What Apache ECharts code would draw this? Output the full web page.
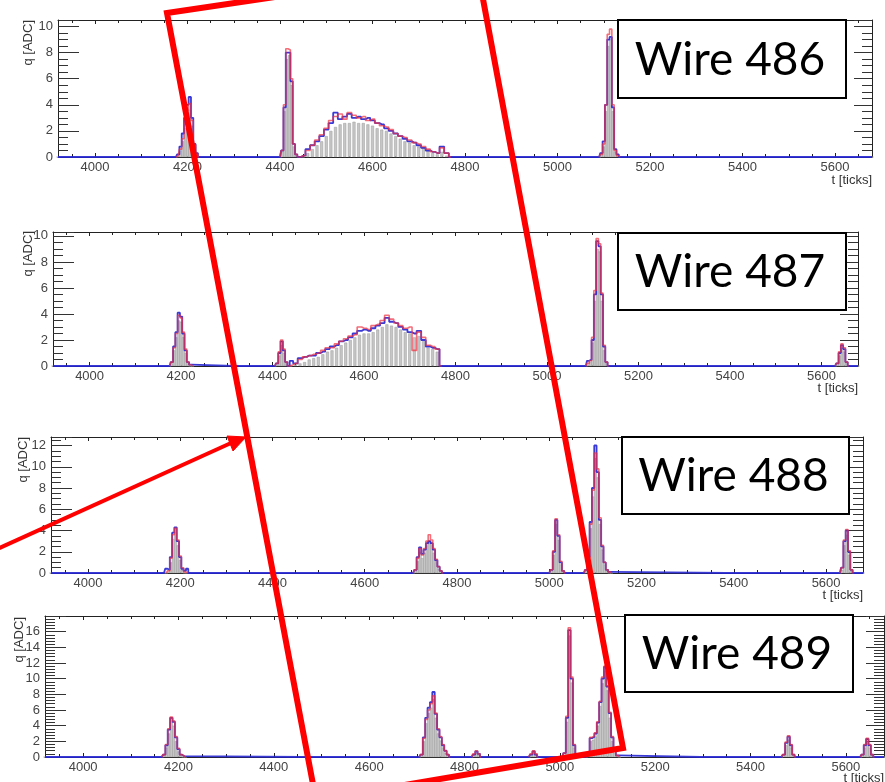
<!DOCTYPE html>
<html><head><meta charset="utf-8">
<script src="https://cdn.jsdelivr.net/npm/echarts@6/dist/echarts.min.js"></script>
<style>html,body{margin:0;padding:0;background:#fff}#c{width:885px;height:782px}</style>
</head><body><div id="c"></div><script>
// ---- data (t in ticks, q in ADC) ----
const t486 = [3920,
 4175,4180,4185,4190,4195,4200,4205,4210,4215,4220,4225,
 4400,4405,4410,4415,4420,4425,4430,4435,4440,
 4450,4460,4470,4480,4490,4500,4510,4520,4530,4540,4550,4560,4570,4580,4590,4600,4610,4620,4630,4640,4650,4660,4670,4680,4690,4700,4710,4720,4730,4740,4750,4760,4770,
 5090,5095,5100,5105,5110,5115,5120,5125,5130,5135,
 5680];
const data486 = [0,
 0,0.1,0.5,1.2,2.2,3.0,3.6,2.4,0.8,0.2,0,
 0,0.4,3.5,7.5,7.8,5.5,0.8,0.1,0,
 0,0.3,0.6,0.9,1.2,1.6,2.0,2.3,2.5,2.6,2.6,2.7,2.6,2.6,2.5,2.4,2.2,2.1,2.0,1.8,1.6,1.4,1.2,1.1,0.9,0.8,0.7,0.5,0.3,0.2,0.4,0.1,0,
 0,0.2,0.8,3.5,8.5,9.0,3.5,0.4,0.1,0,
 0];
const red486 = [0,
 0,0.1,0.6,1.4,2.6,3.6,4.1,2.8,0.9,0.2,0,
 0,0.5,4.0,8.3,8.2,6.0,1.0,0.2,0,
 0.1,0.5,0.9,1.3,1.7,2.2,2.8,3.1,3.3,2.9,3.4,3.2,3.0,3.1,2.8,2.9,2.6,2.4,2.3,2.1,1.8,1.6,1.5,1.3,1.1,1.0,0.8,0.6,0.4,0.3,0.7,0.3,0,
 0,0.2,1.0,4.0,9.4,9.8,4.0,0.5,0.1,0,
 0];
const blue486 = [0,
 0,0.2,0.8,1.8,3.0,4.0,4.6,3.0,1.0,0.3,0,
 0,0.5,3.8,8.0,8.0,5.8,1.0,0.2,0,
 0.1,0.6,0.9,1.2,1.6,2.1,2.6,3.4,2.9,3.1,3.3,3.0,3.1,2.9,3.0,2.8,2.6,2.5,2.2,2.0,1.8,1.6,1.4,1.2,1.1,0.9,0.7,0.5,0.4,0.3,0.8,0.3,0,
 0,0.3,1.2,4.0,9.0,9.2,3.8,0.6,0.2,0,
 0];

const t487 = [3920,
 4175,4180,4185,4190,4195,4200,4205,4210,4215,4220,4225,
 4405,4410,4415,4420,4425,4430,4435,
 4440,4450,4460,4470,4480,4490,4500,4510,4520,4530,4540,4550,4560,4570,4580,4590,4600,4610,4620,4630,4640,4650,4660,4670,4680,4690,4700,4710,4720,4730,4740,4750,4760,4770,
 5085,5090,5095,5100,5105,5110,5115,5120,5125,5130,5135,
 5630,5635,5640,5645,5650,5655,5660,
 5680];
const data487 = [0,
 0,0.2,1.2,2.2,3.5,3.4,2.2,1.0,0.2,0,0,
 0,0.1,0.8,1.6,1.0,0.2,0,
 0,0.1,0.2,0.3,0.5,0.6,0.7,0.9,1.1,1.2,1.4,1.6,1.8,2.0,2.2,2.4,2.5,2.5,2.6,2.8,3.0,3.2,3.1,3.0,2.8,2.6,2.5,2.2,2.3,1.9,1.4,1.3,1.1,0,
 0,0.1,0.3,1.8,5.0,9.0,8.8,5.0,1.2,0.2,0,
 0,0.1,0.8,1.4,1.1,0.2,0,
 0];
const red487 = [0,
 0,0.3,1.4,2.5,3.9,3.7,2.6,1.3,0.3,0.1,0,
 0,0.2,1.1,2.0,1.3,0.3,0,
 0.1,0.2,0.5,0.7,0.8,0.9,1.0,1.2,1.4,1.4,1.7,1.9,2.1,2.3,2.4,3.0,2.9,2.8,3.1,3.2,3.5,3.9,3.6,3.3,3.1,2.9,3.0,1.2,2.6,2.2,1.6,1.5,1.3,0,
 0,0.2,0.4,2.2,5.8,9.8,9.4,5.6,1.6,0.3,0,
 0,0.2,1.1,1.7,1.4,0.3,0,
 0];
const blue487 = [0,
 0,0.3,1.5,2.6,4.1,3.8,2.5,1.2,0.3,0.1,0,
 0,0.2,1.0,1.9,1.2,0.3,0,
 0.4,0.2,0.6,0.7,0.8,0.8,1.0,1.1,1.3,1.5,1.6,1.9,2.0,2.2,2.5,2.7,2.8,2.7,2.9,3.1,3.3,3.7,3.4,3.3,3.0,2.8,2.6,2.5,2.7,2.0,1.5,1.4,1.3,0,
 0,0.4,0.5,2.0,5.5,9.6,9.2,5.5,1.5,0.3,0,
 0,0.2,1.0,1.6,1.3,0.3,0,
 0];

const t488 = [3920,
 4165,4170,4175,4180,4185,4190,4195,4200,4205,4210,4215,4220,
 4705,4710,4715,4720,4725,4730,4735,4740,4745,4750,4755,4760,4765,4770,
 5000,5005,5010,5015,5020,5025,5030,5035,
 5075,5080,5085,5090,5095,5100,5105,5110,5115,5120,5125,5130,5135,
 5630,5635,5640,5645,5650,5655,5660,
 5680];
const data488 = [0,
 0,0,0.1,1.0,3.2,3.8,2.6,1.2,0.3,0,0,0,
 0,0.2,1.1,2.0,1.4,1.9,2.6,3.0,2.6,1.9,1.0,0.4,0.1,0,
 0,0.2,1.7,4.6,3.1,0.8,0.1,0,
 0,0.2,1.2,4.2,7.2,10.8,9.0,4.6,2.2,0.8,0.2,0,0,
 0,0.3,2.6,3.6,1.7,0.2,0,
 0];
const red488 = [0,
 0,0,0.2,1.4,3.6,4.2,3.1,1.6,0.5,0.1,0,0,
 0,0.3,1.4,2.3,1.7,2.3,3.0,3.6,3.1,2.3,1.3,0.6,0.2,0,
 0,0.3,2.1,5.1,3.6,1.1,0.2,0,
 0,0.3,1.4,4.6,7.8,11.3,9.8,5.2,2.6,1.0,0.3,0.1,0,
 0,0.5,3.1,4.1,2.1,0.3,0,
 0];
const blue488 = [0,
 0,0.4,0.3,1.5,3.8,4.3,3.0,1.5,0.4,0.2,0.4,0,
 0,0.3,1.5,2.4,1.8,2.2,2.8,3.0,2.8,2.2,1.2,0.6,0.2,0,
 0,0.3,2.0,5.0,3.5,1.0,0.2,0,
 0,0.3,1.5,4.8,8.0,12.0,9.5,5.0,2.5,1.0,0.3,0.1,0,
 0,0.5,3.0,4.0,2.0,0.3,0,
 0];

const t489 = [3920,
 4165,4170,4175,4180,4185,4190,4195,4200,4205,4210,4215,
 4705,4710,4715,4720,4725,4730,4735,4740,4745,4750,4755,4760,4765,4770,
 4815,4820,4825,4830,4835,
 4935,4940,4945,4950,4955,
 5005,5010,5015,5020,5025,5030,5035,5040,
 5055,5060,5065,5070,5075,5080,5085,5090,5095,5100,5105,5110,5115,5120,5125,
 5465,5470,5475,5480,5485,5490,5495,
 5630,5635,5640,5645,5650,5655,5660,
 5680];
const data489 = [0,
 0,0.2,1.2,3.0,4.5,4.0,2.0,0.7,0.2,0,0,
 0,0.2,2.0,4.3,5.6,6.3,7.4,5.0,3.0,2.1,1.2,0.5,0.2,0,
 0,0.2,0.5,0.3,0,
 0,0.2,0.5,0.2,0,
 0,0.3,4.5,15.5,9.5,1.2,0.2,0,
 0,0.3,2.0,2.2,2.6,4.0,6.5,9.4,11.0,8.5,5.0,2.0,0.5,0.1,0,
 0,0.2,1.5,2.2,1.2,0.2,0,
 0,0.2,1.2,2.0,1.2,0.2,0,
 0];
const red489 = [0,
 0,0.3,1.6,3.6,5.1,4.6,2.6,1.1,0.3,0.1,0,
 0,0.3,2.4,4.8,6.0,6.8,7.8,5.6,3.6,2.6,1.6,0.8,0.3,0,
 0,0.4,0.8,0.4,0,
 0,0.4,0.8,0.4,0,
 0,0.5,5.2,16.5,10.2,1.6,0.3,0,
 0,0.5,2.5,2.7,3.1,4.5,7.1,10.2,11.6,9.1,5.7,2.6,0.8,0.2,0,
 0,0.3,1.9,2.7,1.6,0.3,0,
 0,0.3,1.6,2.4,1.6,0.3,0,
 0];
const blue489 = [0,
 0,0.3,1.5,3.5,5.0,4.5,2.5,1.0,0.3,0.1,0,
 0,0.3,2.5,5.0,6.3,7.0,8.3,5.5,3.5,2.5,1.5,0.8,0.3,0,
 0,0.3,0.7,0.4,0,
 0,0.3,0.7,0.3,0,
 0,0.5,5.0,16.2,10.0,1.5,0.3,0,
 0,0.5,2.4,2.6,3.0,4.4,7.0,10.0,11.5,9.0,5.6,2.5,0.8,0.2,0,
 0,0.3,1.8,2.6,1.5,0.3,0,
 0,0.3,1.5,2.3,1.5,0.3,0,
 0];

const wireNames = ['Wire 486','Wire 487','Wire 488','Wire 489'];
const tRange = [3920, 5680];
const yMaxes = [10.5, 10.3, 12.8, 18];
const xAxisName = 't [ticks]';
const yAxisName = 'q [ADC]';

// ---- layout ----
const panels = [
 {t:t486, d:data486, r:red486, b:blue486, minor:4, grid:{left:58,top:20,width:814,height:137}, box:[618,20,228,78], q:[28,20], tt:[872,180]},
 {t:t487, d:data487, r:red487, b:blue487, minor:4, grid:{left:53,top:232,width:805,height:134}, box:[618,233,228,77], q:[28,231], tt:[858,388]},
 {t:t488, d:data488, r:red488, b:blue488, minor:4, grid:{left:51,top:437,width:812,height:136}, box:[622,437,227,77], q:[23,437], tt:[863,595]},
 {t:t489, d:data489, r:red489, b:blue489, minor:5, grid:{left:45,top:616,width:839,height:141}, box:[625,615,228,77], q:[19,617], tt:[884,778]}
];

const grids=[], xAxes=[], yAxes=[], series=[], graphic=[];
const lab = {fontFamily:'Liberation Sans', fontSize:13, color:'#444'};
const plain = v => String(v);
panels.forEach((p,i)=>{
  grids.push(Object.assign({show:false, containLabel:false}, p.grid));
  const xa = {gridIndex:i, type:'value', min:tRange[0], max:tRange[1], splitNumber:9,
    axisLine:{show:true,onZero:false,lineStyle:{color:'#222',width:1}},
    axisTick:{show:true,inside:true,length:4,lineStyle:{color:'#222'}},
    minorTick:{show:true,splitNumber:4,length:3,lineStyle:{color:'#222'}},
    splitLine:{show:false}, minorSplitLine:{show:false}};
  xAxes.push(Object.assign({}, xa, {position:'bottom',
    axisLabel:Object.assign({show:true,margin:4,showMinLabel:false,showMaxLabel:false,formatter:plain},lab)}));
  xAxes.push(Object.assign({}, xa, {position:'top', axisLabel:{show:false}}));
  const ya = {gridIndex:i, type:'value', min:0, max:yMaxes[i], interval:2,
    axisLine:{show:true,onZero:false,lineStyle:{color:'#222',width:1}},
    minorTick:{show:true,splitNumber:p.minor,length:10,lineStyle:{color:'#333'}},
    splitLine:{show:false}};
  yAxes.push(Object.assign({}, ya, {position:'left',
    axisTick:{show:true,inside:true,length:21,lineStyle:{color:'#333'}},
    axisLabel:Object.assign({show:true,margin:5,showMaxLabel:false,formatter:plain},lab)}));
  yAxes.push(Object.assign({}, ya, {position:'right',
    axisTick:{show:true,inside:true,length:18,lineStyle:{color:'#333'}},
    axisLabel:{show:false}}));
  const xi = 2*i, yi = 2*i;
  series.push({type:'bar', xAxisIndex:xi, yAxisIndex:yi, barWidth:3, silent:true, z:2,
    itemStyle:{color:'#c6c6c6', borderColor:'#9a9a9a', borderWidth:0.5},
    data:p.t.map((x,k)=>[x,p.d[k]])});
  series.push({type:'line', xAxisIndex:xi, yAxisIndex:yi, step:'middle', showSymbol:false, silent:true, z:3,
    lineStyle:{color:'#2424d0', width:1.8, opacity:0.9},
    data:p.t.map((x,k)=>[x,p.b[k]])});
  // red curve drawn only where it leaves the baseline: one series per pulse
  const n = p.r.length;
  let seg = [];
  const flush = () => { if (seg.length > 1) series.push({type:'line', xAxisIndex:xi, yAxisIndex:yi, step:'middle', showSymbol:false, silent:true, z:4,
      lineStyle:{color:'#f03040', width:1.6, opacity:0.7}, data:seg}); seg = []; };
  for (let k=0;k<n;k++){
    const v=p.r[k];
    if (v===0 && k>0 && p.r[k-1]===0) flush();
    const flat = v===0 && (k===0||p.r[k-1]===0) && (k===n-1||p.r[k+1]===0);
    if (!flat) seg.push([p.t[k], v]);
  }
  flush();
  // axis titles
  graphic.push({type:'text', x:p.q[0], y:p.q[1], rotation:Math.PI/2, z:50,
    style:{text:yAxisName, align:'right', verticalAlign:'middle', font:'13px "Liberation Sans"', fill:'#333'}});
  graphic.push({type:'text', x:p.tt[0], y:p.tt[1], z:50,
    style:{text:xAxisName, align:'right', verticalAlign:'middle', font:'13px "Liberation Sans"', fill:'#333'}});
  // wire label box
  graphic.push({type:'rect', z:60, shape:{x:p.box[0],y:p.box[1],width:p.box[2],height:p.box[3]},
    style:{fill:'#fff', stroke:'#000', lineWidth:2}});
  graphic.push({type:'text', z:61, x:p.box[0]+p.box[2]/2-2, y:p.box[1]+p.box[3]/2+1,
    style:{text:wireNames[i], align:'center', verticalAlign:'middle', font:'46px Lato', fill:'#000'}});
});
// red annotations
graphic.push({type:'polygon', z:100, shape:{points:[[167,13],[477,-33],[623,748],[316,800]]},
  style:{fill:'none', stroke:'#ff0000', lineWidth:6, lineJoin:'miter'}});
graphic.push({type:'line', z:100, shape:{x1:-5,y1:550,x2:231,y2:443},
  style:{stroke:'#ff0000', lineWidth:4}});
graphic.push({type:'polygon', z:100, shape:{points:[[246,437],[233,451],[227,436]]},
  style:{fill:'#ff0000', stroke:'#ff0000', lineWidth:1}});

const chart = echarts.init(document.getElementById('c'), null, {renderer:'canvas'});
chart.setOption({animation:false, backgroundColor:'#fff', grid:grids, xAxis:xAxes, yAxis:yAxes, series:series, graphic:graphic});
</script></body></html>
